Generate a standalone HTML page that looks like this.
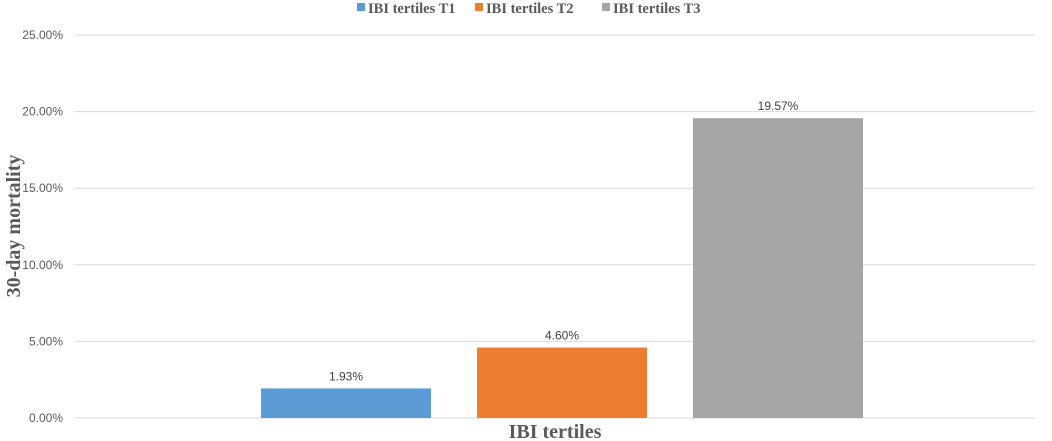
<!DOCTYPE html>
<html><head><meta charset="utf-8"><style>
body{margin:0;background:#fff;width:1052px;height:441px;overflow:hidden}
svg{display:block}
</style></head><body>
<svg id="chart" width="1052" height="441" xmlns="http://www.w3.org/2000/svg">
<g id="legend">
 <rect x="357" y="3" width="8" height="8" fill="#5b9bd5"/>
 <text x="368" y="13" font-family="Liberation Serif, serif" font-weight="bold" font-size="14.5" fill="#595959">IBI tertiles T1</text>
 <rect x="475" y="3" width="8" height="8" fill="#ed7d31"/>
 <text x="486" y="13" font-family="Liberation Serif, serif" font-weight="bold" font-size="14.5" fill="#595959">IBI tertiles T2</text>
 <rect x="602" y="3" width="8" height="8" fill="#a5a5a5"/>
 <text x="613" y="13" font-family="Liberation Serif, serif" font-weight="bold" font-size="14.5" fill="#595959">IBI tertiles T3</text>
</g>
<g id="grid"></g><g id="bars"></g>
<text x="555" y="438" text-anchor="middle" font-family="Liberation Serif, serif" font-weight="bold" font-size="20" fill="#595959">IBI tertiles</text>
<text transform="translate(20,226) rotate(-90)" text-anchor="middle" font-family="Liberation Serif, serif" font-weight="bold" font-size="20" fill="#595959">30-day mortality</text>
</svg>
<script>
const categories = ["IBI tertiles T1","IBI tertiles T2","IBI tertiles T3"];
const values = [1.93, 4.60, 19.57];
const valueLabels = ["1.93%","4.60%","19.57%"];
const ticks = [0,5,10,15,20,25];
const tickLabels = ["0.00%","5.00%","10.00%","15.00%","20.00%","25.00%"];
const colors = ["#5b9bd5","#ed7d31","#a5a5a5"];
const NS="http://www.w3.org/2000/svg";
const y0=418, yTop=35, yMax=25, xL=75, xR=1035;
function y(v){return y0-(v/yMax)*(y0-yTop);}
const barW=170, barStart=261, barStep=216;
function x(i){return barStart+i*barStep;}
const grid=document.getElementById('grid');
ticks.forEach((t,i)=>{
 const l=document.createElementNS(NS,'line');
 l.setAttribute('x1',xL);l.setAttribute('x2',xR);l.setAttribute('y1',y(t));l.setAttribute('y2',y(t));
 l.setAttribute('stroke','#d9d9d9');l.setAttribute('stroke-width','1');
 
 
 grid.appendChild(l);
 const tx=document.createElementNS(NS,'text');
 tx.setAttribute('x',63);tx.setAttribute('y',y(t)+4);tx.setAttribute('text-anchor','end');
 tx.setAttribute('font-family','Liberation Sans, sans-serif');tx.setAttribute('font-size','12');tx.setAttribute('fill','#595959');
 tx.textContent=tickLabels[i];
 
 
 grid.appendChild(tx);
});
const bars=document.getElementById('bars');
values.forEach((v,i)=>{
 const r=document.createElementNS(NS,'rect');
 r.setAttribute('x',x(i));r.setAttribute('y',y(v));r.setAttribute('width',barW);r.setAttribute('height',y0-y(v));
 r.setAttribute('fill',colors[i]);
 
 
 bars.appendChild(r);
 const tx=document.createElementNS(NS,'text');
 tx.setAttribute('x',x(i)+barW/2);tx.setAttribute('y',y(v)-8);tx.setAttribute('text-anchor','middle');
 tx.setAttribute('font-family','Liberation Sans, sans-serif');tx.setAttribute('font-size','12');tx.setAttribute('fill','#404040');
 tx.textContent=valueLabels[i];
 
 
 bars.appendChild(tx);
});
</script>
</body></html>
